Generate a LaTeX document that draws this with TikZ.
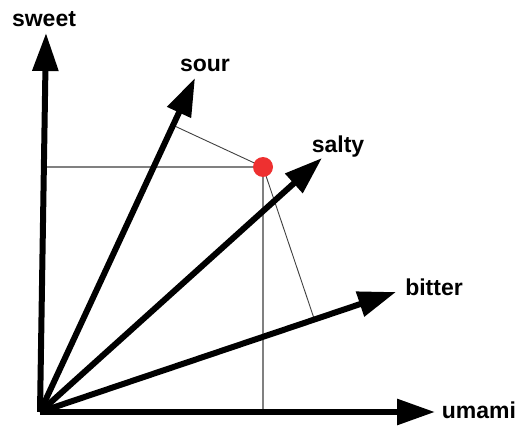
\documentclass[tikz,border=0pt]{standalone}
\usepackage{fontspec}
\setmainfont{Liberation Sans}
\usetikzlibrary{arrows.meta,calc}
\definecolor{dotred}{RGB}{238,48,48}
\definecolor{thingray}{RGB}{128,128,128}
\tikzset{
  axis/.style={line width=6pt,-{Triangle[length=38pt,width=25pt]}},
  guide/.style={thingray,line width=1.3pt},
  proj/.style={black!75,line width=0.9pt},
  lbl/.style={font=\fontsize{23}{23}\selectfont\bfseries,inner sep=0pt}
}
\begin{document}
\begin{tikzpicture}[x=1pt,y=-1pt]
\useasboundingbox (0,0) rectangle (522,428);
\coordinate (O) at (40,412);
\coordinate (swT) at (46,33);
\coordinate (soT) at (195,78);
\coordinate (saT) at (322,158);
\coordinate (biT) at (396,292);
\coordinate (umT) at (435,412);
\coordinate (P) at (263,167);
\coordinate (Ph) at (43.6,167);
\coordinate (Pv) at (263,412);
% guide lines
\draw[guide] (Ph) -- (P);
\draw[guide] (P) -- (Pv);
\draw[proj] (P) -- ($(O)!(P)!(soT)$);
\draw[proj] (P) -- ($(O)!(P)!(biT)$);
% axes
\draw[axis] (O) -- (swT);
\draw[axis] (O) -- (soT);
\draw[axis] (O) -- (saT);
\draw[axis] (O) -- (biT);
\draw[axis] (O) -- (umT);
% point
\node[circle,fill=dotred,minimum size=20pt,inner sep=0pt] (dot) at (P) {};
% labels
\node[lbl] (lsw) at (44,19) {sweet};
\node[lbl] (lso) at (205,65) {sour};
\node[lbl] (lsa) at (338,147) {salty};
\node[lbl] (lbi) at (434,287) {bitter};
\node[lbl] (lum) at (479,410) {umami};
\end{tikzpicture}
\end{document}
